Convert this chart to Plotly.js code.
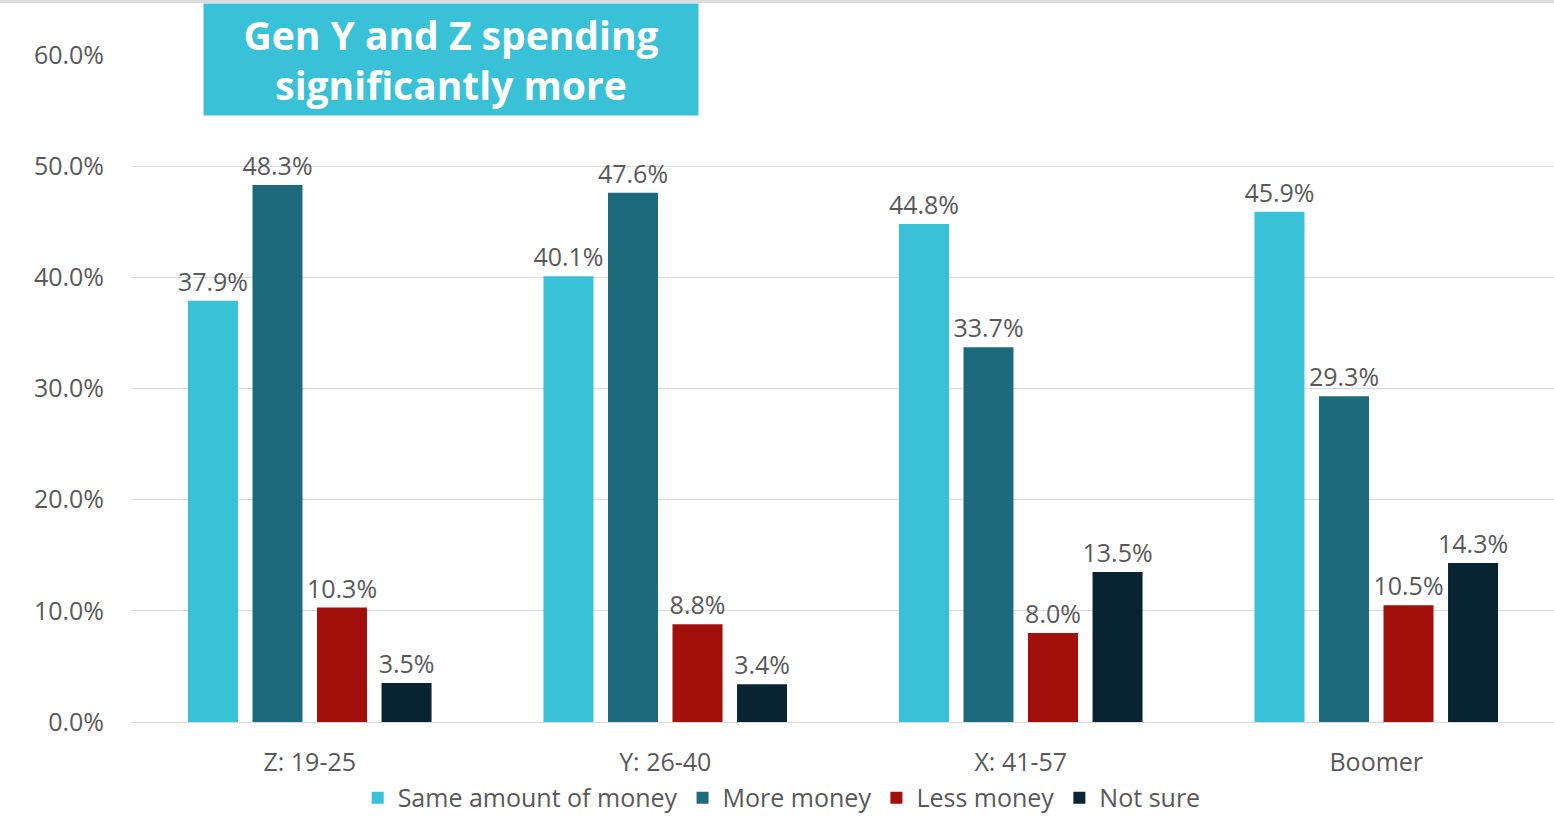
<!DOCTYPE html>
<html><head><meta charset="utf-8">
<script src="https://cdn.plot.ly/plotly-3.0.1.min.js"></script>
<style>html,body{margin:0;padding:0;background:#fff;}#topbar{height:3px;background:#dcdcdc;width:1554px;}#chart{width:1554px;height:822px;}</style>
</head><body>
<div id="topbar"></div>
<div id="chart"></div>
<script>
const categories = ["Z: 19-25", "Y: 26-40", "X: 41-57", "Boomer"];
const seriesNames = ["Same amount of money", "More money", "Less money", "Not sure"];
const sameAmount = [37.9, 40.1, 44.8, 45.9];
const moreMoney = [48.3, 47.6, 33.7, 29.3];
const lessMoney = [10.3, 8.8, 8.0, 10.5];
const notSure = [3.5, 3.4, 13.5, 14.3];
const colors = ["#38C1D7", "#1D6A7D", "#A30F0A", "#082433"];
const titleText = "Gen Y and Z spending<br>significantly more";

const allValues = [sameAmount, moreMoney, lessMoney, notSure];
const traces = allValues.map((vals, i) => ({
  type: "bar",
  name: seriesNames[i],
  x: categories,
  y: vals,
  marker: {color: colors[i]},
  texttemplate: "%{y:.1f}%",
  textposition: "outside",
  constraintext: "none",
  textfont: {family: "Open Sans", size: 25, color: "#595959"},
  cliponaxis: false,
  hoverinfo: "skip"
}));

const layout = {
  width: 1554, height: 822,
  margin: {l: 132, r: 0, t: 52, b: 103},
  paper_bgcolor: "#fff", plot_bgcolor: "#fff",
  font: {family: "Open Sans", color: "#595959", size: 25},
  barmode: "group",
  bargap: 0.274,
  bargroupgap: 0.225,
  showlegend: true,
  legend: {orientation: "h", xref: "container", x: 0.503, xanchor: "center", yref: "container", y: 0.005, yanchor: "bottom",
    font: {family: "Open Sans", size: 25, color: "#595959"}, itemwidth: 30, tracegroupgap: 0},
  xaxis: {showgrid: false, showline: true, linecolor: "#d9d9d9", linewidth: 1, ticks: "",
    tickfont: {family: "Open Sans", size: 25, color: "#595959"}, ticklabelstandoff: 18},
  yaxis: {range: [0, 60], dtick: 10, tickformat: ".1f", ticksuffix: "%", showgrid: true, gridcolor: "#d9d9d9", gridwidth: 1,
    zeroline: false, showline: false, ticks: "", tickfont: {family: "Open Sans", size: 25, color: "#595959"}, ticklabelstandoff: 27},
  annotations: [{
    xref: "paper", yref: "paper",
    x: (203 - 132) / 1422, xanchor: "left",
    y: (719 - 0) / 667, yanchor: "top",
    text: "<b>" + titleText + "</b>",
    showarrow: false,
    bgcolor: "#38C1D7",
    width: 494, height: 111, borderpad: 0,
    align: "center", valign: "middle",
    font: {family: "Open Sans", size: 39, color: "#ffffff"}
  }]
};
Plotly.newPlot("chart", traces, layout, {displayModeBar: false, staticPlot: true});
</script>
</body></html>
